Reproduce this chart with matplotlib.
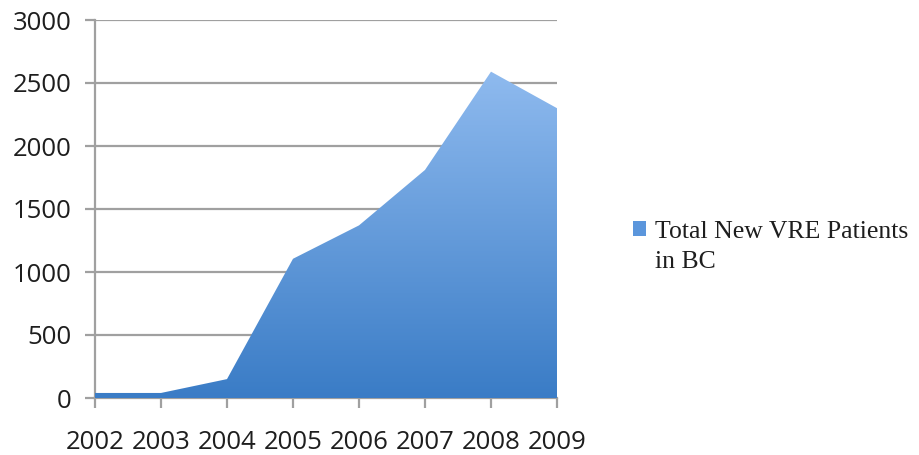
import numpy as np
import matplotlib.pyplot as plt
from matplotlib.colors import LinearSegmentedColormap
from matplotlib.patches import Patch

years = [2002, 2003, 2004, 2005, 2006, 2007, 2008, 2009]
patients = [40, 40, 150, 1105, 1370, 1810, 2590, 2300]
yticks = [0, 500, 1000, 1500, 2000, 2500, 3000]
series_label = 'Total New VRE Patients\nin BC'

fig = plt.figure(figsize=(9.19, 4.55), dpi=100)
ax = fig.add_axes([95 / 919, 57 / 455, 462 / 919, 378 / 455])

# area, invisible; the gradient image is clipped to it
poly = ax.fill_between(years, 0, patients, facecolor='none', edgecolor='none', zorder=3)
cmap = LinearSegmentedColormap.from_list('blu', ['#3a7cc6', '#9cc4f5'])
grad = np.linspace(0, 1, 256).reshape(-1, 1)
img = ax.imshow(grad, cmap=cmap, origin='lower', aspect='auto',
                extent=[years[0], years[-1], 0, 3000], zorder=3)
img.set_clip_path(poly.get_paths()[0], transform=ax.transData)

ax.set_xlim(years[0], years[-1])
ax.set_ylim(0, 3000)
ax.set_yticks(yticks)
ax.set_xticks(years)
ax.yaxis.grid(True, color='#a0a0a0', lw=1.6)
ax.set_axisbelow(True)
for s in ['top', 'right']:
    ax.spines[s].set_visible(False)
for s in ['left', 'bottom']:
    ax.spines[s].set_color('#a0a0a0')
    ax.spines[s].set_linewidth(1.6)
ax.tick_params(axis='y', length=7, width=1.6, color='#a0a0a0', labelsize=18.5, pad=10)
ax.tick_params(axis='x', length=7, width=1.6, color='#a0a0a0', labelsize=18.5, pad=16)
for t in ax.get_xticklabels() + ax.get_yticklabels():
    t.set_fontfamily('Open Sans')
    t.set_color('#1e1e1e')

handle = Patch(facecolor='#5b96dc', edgecolor='none')
leg = fig.legend([handle], [series_label], loc='center left', bbox_to_anchor=(610 / 919, 1 - 247 / 455),
                 frameon=False, handlelength=0.5, handleheight=0.5, handletextpad=0.35,
                 prop={'family': 'Liberation Serif', 'size': 18.5})
for txt in leg.get_texts():
    txt.set_linespacing(1.45)
    txt.set_color('#1e1e1e')
# put the square next to the first line
for col in leg._legend_handle_box.get_children():
    for row in col.get_children():
        row.align = 'top'

fig.savefig('out.png', dpi=100)
